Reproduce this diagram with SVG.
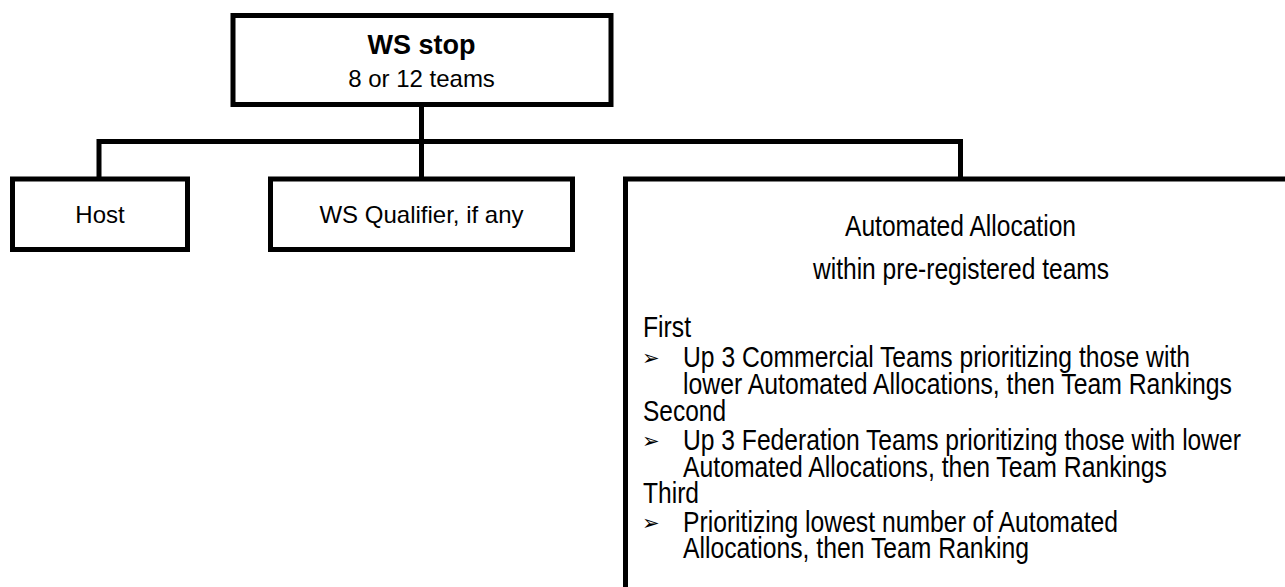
<svg xmlns="http://www.w3.org/2000/svg" width="1285" height="587" viewBox="0 0 1285 587">
  <style>
    .box { fill: #ffffff; stroke: #000000; stroke-width: 5; }
    .wire { fill: none; stroke: #000000; stroke-width: 5; stroke-linecap: square; }
    .lbl { font-family: "Liberation Sans", Arial, sans-serif; fill: #000000; }
    .nar { font-family: "Liberation Sans Narrow", "Liberation Sans", Arial, sans-serif; font-size: 29px; fill: #000000; }
    .blt { font-family: "DejaVu Sans", sans-serif; font-size: 21px; fill: #000000; }
  </style>
  <rect width="1285" height="587" fill="#ffffff"/>

  <!-- tree connectors -->
  <g id="connectors">
    <path class="wire" d="M421.5 104.5 V141.5"/>
    <path class="wire" d="M99 179 V141.5 H960.5 V179"/>
    <path class="wire" d="M421.5 141.5 V179"/>
  </g>

  <g id="ws-stop">
    <rect class="box" x="233" y="15.5" width="378" height="89"/>
    <text class="lbl" x="421.5" y="54" font-size="27" font-weight="bold" text-anchor="middle">WS stop</text>
    <text class="lbl" x="421.5" y="86.5" font-size="24" text-anchor="middle">8 or 12 teams</text>
  </g>

  <g id="host">
    <rect class="box" x="12.5" y="179" width="175" height="70.5"/>
    <text class="lbl" x="100" y="222.5" font-size="24" text-anchor="middle">Host</text>
  </g>

  <g id="ws-qualifier">
    <rect class="box" x="270.5" y="179" width="302" height="70.5"/>
    <text class="lbl" x="421.5" y="222.5" font-size="24" text-anchor="middle">WS Qualifier, if any</text>
  </g>

  <g id="automated-allocation">
    <rect class="box" x="625.5" y="179" width="720" height="460"/>
    <text class="nar" x="960.5" y="236" text-anchor="middle" textLength="231" lengthAdjust="spacingAndGlyphs">Automated Allocation</text>
    <text class="nar" x="961" y="279" text-anchor="middle" textLength="296" lengthAdjust="spacingAndGlyphs">within pre-registered teams</text>

    <text class="nar" x="643" y="337" textLength="48" lengthAdjust="spacingAndGlyphs">First</text>
    <text class="blt" x="642" y="365">➢</text>
    <text class="nar" x="683" y="367" textLength="507" lengthAdjust="spacingAndGlyphs">Up 3 Commercial Teams prioritizing those with</text>
    <text class="nar" x="683" y="394" textLength="549" lengthAdjust="spacingAndGlyphs">lower Automated Allocations, then Team Rankings</text>

    <text class="nar" x="643" y="421" textLength="83" lengthAdjust="spacingAndGlyphs">Second</text>
    <text class="blt" x="642" y="448">➢</text>
    <text class="nar" x="683" y="450" textLength="558" lengthAdjust="spacingAndGlyphs">Up 3 Federation Teams prioritizing those with lower</text>
    <text class="nar" x="683" y="477" textLength="484" lengthAdjust="spacingAndGlyphs">Automated Allocations, then Team Rankings</text>

    <text class="nar" x="643" y="503" textLength="56" lengthAdjust="spacingAndGlyphs">Third</text>
    <text class="blt" x="642" y="530">➢</text>
    <text class="nar" x="683" y="532" textLength="435" lengthAdjust="spacingAndGlyphs">Prioritizing lowest number of Automated</text>
    <text class="nar" x="683" y="558" textLength="346" lengthAdjust="spacingAndGlyphs">Allocations, then Team Ranking</text>
  </g>
</svg>
